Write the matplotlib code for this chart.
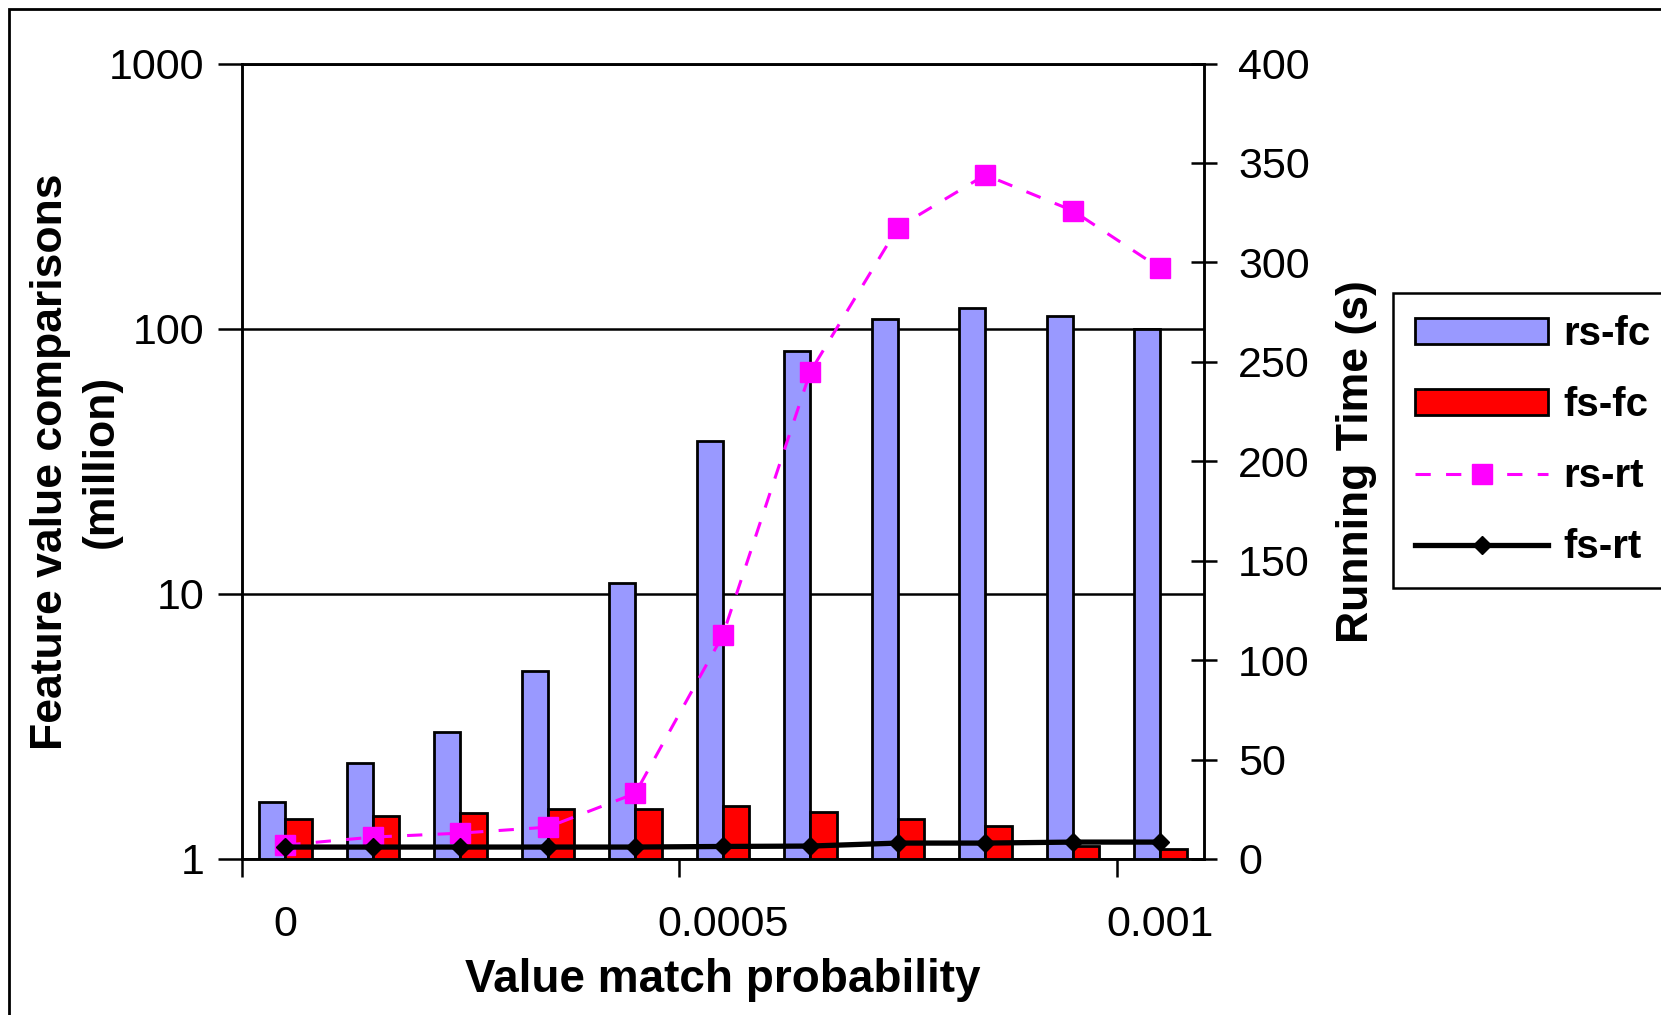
import numpy as np
import matplotlib
matplotlib.use("Agg")
import matplotlib.pyplot as plt
from matplotlib.patches import Rectangle
from matplotlib.ticker import NullLocator

plt.rcParams['font.family'] = ['Liberation Sans', 'DejaVu Sans']

# data
categories = ["0", "0.0001", "0.0002", "0.0003", "0.0004", "0.0005",
              "0.0006", "0.0007", "0.0008", "0.0009", "0.001"]
tick_labels = ["0", "0.0005", "0.001"]
rs_fc = [1.64, 2.30, 3.02, 5.12, 11.0, 37.8, 82.5, 109, 120, 112, 99.5]
fs_fc = [1.41, 1.45, 1.49, 1.54, 1.54, 1.58, 1.50, 1.42, 1.33, 1.12, 1.09]
rs_rt = [7, 11, 13, 16, 33, 112.5, 245, 317.5, 344, 326, 297]
fs_rt = [6, 6, 6, 6, 6, 6.3, 6.5, 8, 8, 8.5, 8.5]
left_ticks = [1, 10, 100, 1000]
right_ticks = list(range(0, 401, 50))

lw = 1.8
fig = plt.figure(figsize=(16.61, 10.15), dpi=100)
ax = fig.add_axes([0.1454, 0.1537, 0.5795, 0.7837])

x = np.arange(len(categories))
b1 = ax.bar(x - 0.15, rs_fc, 0.3, color='#9999ff', edgecolor='black', linewidth=2, label='rs-fc', zorder=2)
b2 = ax.bar(x + 0.15, fs_fc, 0.3, color='#ff0000', edgecolor='black', linewidth=2, label='fs-fc', zorder=2)
ax.set_yscale('log')
ax.set_ylim(1, 1000)
ax.set_xlim(-0.5, len(categories) - 0.5)
ax.set_yticks(left_ticks)
ax.set_yticklabels([str(t) for t in left_ticks])
ax.yaxis.set_minor_locator(NullLocator())
ax.yaxis.grid(True, color='black', linewidth=lw)
ax.set_axisbelow(True)

# ticks between categories, labels on every fifth category
ax.set_xticks([-0.5, 4.5, 9.5])
ax.set_xticklabels([])
ax.set_xticks([categories.index(t) for t in tick_labels], minor=True)
ax.set_xticklabels(tick_labels, minor=True)
ax.tick_params(axis='x', which='minor', length=0, pad=33, labelsize=31)
ax.tick_params(axis='x', which='major', length=13, width=lw, direction='out')
ax.tick_params(axis='y', length=17.5, width=lw, pad=9, labelsize=31)
for s in ax.spines.values():
    s.set_linewidth(lw)

ax.set_xlabel('Value match probability', fontsize=33, fontweight='bold')
ax.xaxis.set_label_coords(0.5, -0.125)
ax.set_ylabel('Feature value comparisons\n(million)', fontsize=32, fontweight='bold',
              linespacing=1.3, va='center')
ax.yaxis.set_label_coords(-0.172, 0.5)

ax2 = ax.twinx()
l1, = ax2.plot(x, rs_rt, color='#ff00ff', linestyle=(0, (5, 5)), linewidth=2.2,
               marker='s', markersize=14, label='rs-rt')
l2, = ax2.plot(x, fs_rt, color='black', linewidth=3.8, marker='D', markersize=9, label='fs-rt')
ax2.set_ylim(0, 400)
ax2.set_yticks(right_ticks)
ax2.tick_params(axis='y', direction='inout', length=19, width=lw, pad=15, labelsize=31)
for s in ax2.spines.values():
    s.set_linewidth(lw)
ax2.set_ylabel('Running Time (s)', fontsize=32, fontweight='bold', rotation=90, va='center')
ax2.yaxis.set_label_coords(1.158, 0.5)

leg = fig.legend([b1, b2, l1, l2], ['rs-fc', 'fs-fc', 'rs-rt', 'fs-rt'],
                 loc='upper left', bbox_to_anchor=(0.8387, 0.7113), borderaxespad=0,
                 fancybox=False, edgecolor='black', framealpha=1,
                 prop={'family': 'Liberation Sans', 'weight': 'bold', 'size': 29},
                 handlelength=3.3, handleheight=0.62, handletextpad=0.37,
                 labelspacing=0.82, borderpad=0.55)
leg.get_frame().set_linewidth(lw)

# outer frame of the picture
fig.patches.append(Rectangle((8.5 / 1661, -0.5), 2, 1.5 - 8.5 / 1015, transform=fig.transFigure,
                             fill=False, edgecolor='black', linewidth=2))

plt.savefig('out.png', dpi=100)
